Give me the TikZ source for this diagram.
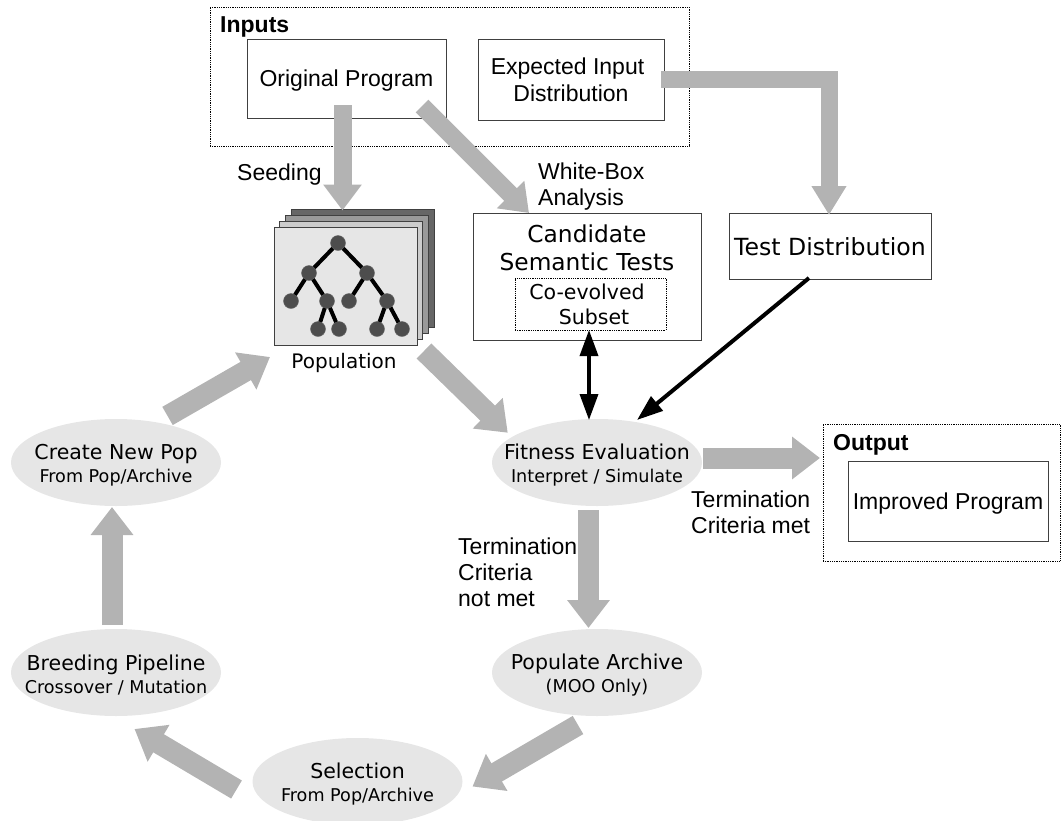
\documentclass[tikz,border=0pt]{standalone}
\usepackage{fontspec}
\usepackage{xcolor}
\setmainfont{Liberation Sans}
\newfontfamily\dejavu{DejaVu Sans}
\usetikzlibrary{shapes.geometric, arrows.meta, positioning}
\definecolor{flowgray}{HTML}{B3B3B3}
\definecolor{stagegray}{HTML}{E6E6E6}
\definecolor{treegray}{HTML}{4D4D4D}
\newcommand{\subtext}[1]{{\fontsize{17.6}{23}\selectfont #1}}

\begin{document}
\begin{tikzpicture}[
        x=1pt, y=-1pt,
        arialfont/.style={font=\fontsize{23}{26}\selectfont},
        vera/.style={font=\dejavu\fontsize{20.5}{23}\selectfont},
        frame/.style={rectangle, draw=black, densely dotted, line width=0.8pt, inner sep=0pt, outer sep=0pt},
        block/.style={rectangle, draw=black!75, fill=white, line width=0.9pt, align=center, inner sep=0pt, outer sep=0pt},
        stage/.style={ellipse, fill=stagegray, minimum width=210pt, minimum height=87pt, inner sep=0pt, outer sep=0pt},
        stagetext/.style={vera, align=center, inner sep=0pt, yshift=-3pt},
        card/.style={rectangle, draw=black!75, line width=0.9pt, minimum width=143pt, minimum height=118pt, inner sep=0pt, outer sep=0pt},
        leaf/.style={circle, draw=black!60, fill=treegray, minimum size=15pt, inner sep=0pt, outer sep=0pt},
        limb/.style={line width=4pt, black},
        textlabel/.style={arialfont, align=left, anchor=west, inner sep=0pt},
        flow/.style={draw=flowgray, line width=21pt, -{Triangle[length=28pt,width=41pt,fill=flowgray]}},
        thinflow/.style={draw=flowgray, line width=18pt, -{Triangle[length=26pt,width=37pt,fill=flowgray]}},
        pointer/.style={line width=4pt, black, -{Triangle[length=26pt,width=18pt]}},
        bothways/.style={line width=3.5pt, black, {Triangle[length=26pt,width=18pt]}-{Triangle[length=26pt,width=18pt]}}
    ]
        \useasboundingbox (0,0) rectangle (1061,820);

        % Inputs
        \node[frame, minimum width=479pt, minimum height=139pt] (inframe) at (449.5,76.5) {};
        \node[textlabel, font=\bfseries\fontsize{23}{26}\selectfont] (inlabel) at (220,27) {Inputs};
        \node[block, arialfont, text depth=0pt, minimum width=199pt, minimum height=79pt] (orig) at (346.5,78.5) {Original Program};
        \node[block, font=\fontsize{23}{27}\selectfont, minimum width=186pt, minimum height=81pt, right=32pt of orig, yshift=-1pt] (expd) {Expected Input\hspace*{7pt}\\Distribution};

        % Population
        \node[card, fill=black!60] (card4) at (363,268.5) {};
        \node[card, fill=black!40] (card3) at (357,274.5) {};
        \node[card, fill=black!20] (card2) at (351,280.5) {};
        \node[card, fill=stagegray] (card1) at (345.5,286) {};
        \node[leaf] (root) at (338,243) {};
        \node[leaf] (l) at (309,273) {};
        \node[leaf] (r) at (367,273) {};
        \node[leaf] (ll) at (291,301) {};
        \node[leaf] (lr) at (327,301) {};
        \node[leaf] (rl) at (349,301) {};
        \node[leaf] (rr) at (387,301) {};
        \node[leaf] (lrl) at (318,329) {};
        \node[leaf] (lrr) at (339,329) {};
        \node[leaf] (rrl) at (377,329) {};
        \node[leaf] (rrr) at (402,329) {};
        \draw[limb] (root) -- (l);
        \draw[limb] (root) -- (r);
        \draw[limb] (l) -- (ll);
        \draw[limb] (l) -- (lr);
        \draw[limb] (r) -- (rl);
        \draw[limb] (r) -- (rr);
        \draw[limb] (lr) -- (lrl);
        \draw[limb] (lr) -- (lrr);
        \draw[limb] (rr) -- (rrl);
        \draw[limb] (rr) -- (rrr);
        \node[vera, font=\dejavu\fontsize{20}{23}\selectfont] (poplabel) at (344,363) {Population};

        % Tests
        \node[block, minimum width=228pt, minimum height=127pt] (cand) at (587,276.5) {};
        \node[vera, font=\dejavu\fontsize{23.3}{28}\selectfont, align=center, inner sep=0pt] (candtext) at (587,248) {Candidate\\Semantic Tests};
        \node[frame, vera, font=\dejavu\fontsize{20.5}{25}\selectfont, align=center, minimum width=151pt, minimum height=52pt] (subset) at (590.5,304) {Co-evolved\hspace*{7pt}\\\hspace*{7pt}Subset};
        \node[block, vera, font=\dejavu\fontsize{23.6}{26}\selectfont, text height=20pt, minimum width=202pt, minimum height=66pt] (test) at (830,246) {Test Distribution};

        % Loop
        \node[stage, label={[stagetext]center:Fitness Evaluation\\\subtext{Interpret / Simulate}}] (fitness) at (597,462.5) {};
        \node[stage, below=123pt of fitness, label={[stagetext]center:Populate Archive\\\subtext{(MOO Only)}}] (archive) {};
        \node[stage, left=271pt of fitness, label={[stagetext]center:Create New Pop\\\subtext{From Pop/Archive}}] (create) {};
        \node[stage, below=123pt of create, label={[stagetext]center:Breeding Pipeline\\\subtext{Crossover / Mutation}}] (breed) {};
        \node[stage, label={[stagetext]center:Selection\\\subtext{From Pop/Archive}}] (select) at (357.5,781.5) {};

        % Output
        \node[frame, minimum width=237pt, minimum height=137pt] (outframe) at (941.5,492.5) {};
        \node[textlabel, font=\bfseries\fontsize{23}{26}\selectfont] (outlabel) at (833,445) {Output};
        \node[block, arialfont, text depth=0pt, minimum width=200pt, minimum height=80pt] (improved) at (948,501) {Improved Program};

        % Labels
        \node[textlabel] (seeding) at (237,175) {Seeding};
        \node[textlabel] (whitebox) at (538,187) {White-Box\\Analysis};
        \node[textlabel] (termmet) at (691,512) {Termination\\Criteria met};
        \node[textlabel] (termnot) at (458,572) {Termination\\Criteria\\not met};

        % Arrows
        \draw[thinflow] ([shift={(-4,-13)}]orig.south) -- ([shift={(-20.5,1)}]card4.north);
        \draw[thinflow] ([shift={(-24,-12)}]orig.south east) -- ([shift={(56,0)}]cand.north west);
        \draw[draw=flowgray, line width=17pt, -{Triangle[length=29pt,width=33pt,fill=flowgray]}] ([xshift=-3pt]expd.east) -| ([shift={(-1,2)}]test.north);
        \draw[flow] ([shift={(7,6)}]card1.south east) -- ([shift={(-15,1)}]fitness.north west);
        \draw[flow] ([shift={(-22.7,-15.8)}]create.north east) -- ([shift={(-4,12)}]card1.south west);
        \draw[flow] ([shift={(-4,-4)}]breed.north) -- ([shift={(-4,1)}]create.south);
        \draw[flow] ([shift={(-16,8)}]select.west) -- ([shift={(18.5,13)}]breed.south);
        \draw[flow] ([shift={(-19,9)}]archive.south) -- ([shift={(10,5)}]select.east);
        \draw[flow] ([shift={(-8.5,4)}]fitness.south) -- ([shift={(-8.5,-1)}]archive.north);
        \draw[flow] ([shift={(1,-4.5)}]fitness.east) -- ([shift={(-3,-34.5)}]outframe.west);
        \draw[bothways] ([xshift=-1.5pt]subset.south) -- ([shift={(-8,1)}]fitness.north);
        \draw[pointer] ([shift={(-21,-1)}]test.south) -- ([shift={(40,1)}]fitness.north);
    \end{tikzpicture}
\end{document}
